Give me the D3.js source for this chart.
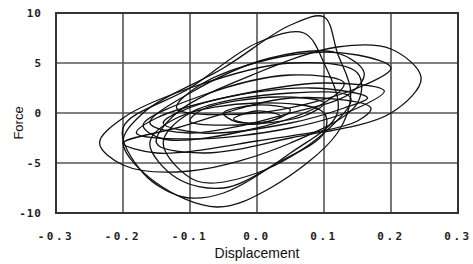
<html><head><meta charset="utf-8"/>
<script src="https://d3js.org/d3.v7.min.js"></script>
<style>
  body { margin: 0; padding: 0; background: #fff; }
  svg { display: block; }
</style>
</head>
<body>
<div id="chart"></div>
<script>
// axis ticks
const xTicks = [-0.3, -0.2, -0.1, 0.0, 0.1, 0.2, 0.3];
const yTicks = [-10, -5, 0, 5, 10];

// hysteresis loops, [displacement, force] points
const loopTall1 = [[0.12, 6], [0.1, 9.6], [0.05, 8.8], [-0.05, 4.5], [-0.17, 0], [-0.2, -3], [-0.15, -7], [-0.06, -9.4], [0.02, -7.5], [0.12, -2], [0.14, 2]];
const loopTall2 = [[0.1, 5], [0.07, 8], [0.0, 7], [-0.1, 2.5], [-0.2, -1.5], [-0.17, -6], [-0.11, -8.4], [-0.05, -8], [0.05, -4], [0.12, 0]];
const loopRight = [[0.245, 3.5], [0.2, 6.4], [0.12, 6.6], [0.0, 4], [-0.12, 0], [-0.15, -3], [-0.08, -4], [0.05, -2.5], [0.2, 0]];
const loopLeft = [[0.15, 4], [0.05, 5], [-0.1, 2.5], [-0.2, -0.5], [-0.235, -3], [-0.2, -5.2], [-0.1, -5.8], [0.05, -3], [0.15, 1]];
const loopUpper = [[0.16, 4], [0.12, 6], [0.02, 5.5], [-0.1, 2], [-0.16, -1], [-0.1, -2], [0.05, 0], [0.14, 2]];
const loopUpper2 = [[0.2, 4.5], [0.15, 5.8], [0.05, 5.8], [-0.08, 3], [-0.12, 0.5], [0.0, 0], [0.15, 2.5]];
const loopMid1 = [[0.19, 2.2], [0.1, 3], [-0.05, 1.5], [-0.15, -0.5], [-0.18, -2], [-0.1, -2.6], [0.05, -1.5], [0.15, 0.5]];
const loopMid2 = [[0.165, 1.5], [0.08, 2.5], [-0.08, 1], [-0.14, -1], [-0.08, -2], [0.05, -1], [0.13, 0.5]];
const loopMid3 = [[0.13, 3], [0.05, 3.8], [-0.08, 1.8], [-0.17, -1.2], [-0.14, -2.6], [0.0, -1.5], [0.1, 1]];
const loopFlat = [[0.17, 0.5], [0.05, 1.5], [-0.12, -1.5], [-0.2, -3], [-0.15, -4], [0.0, -2.8], [0.15, -0.8]];
const loopLower1 = [[0.1, 0], [0.0, 1], [-0.12, -0.5], [-0.16, -3], [-0.12, -6.5], [-0.05, -7.5], [0.03, -5], [0.1, -2]];
const loopLower2 = [[0.14, 1.5], [0.05, 2], [-0.1, 0], [-0.14, -3], [-0.09, -6.8], [0.0, -6], [0.1, -2]];
const loopSmall1 = [[0.1, 1], [0.03, 1.6], [-0.08, 0.4], [-0.1, -0.8], [-0.03, -1.2], [0.07, -0.3]];
const loopSmall2 = [[0.05, 0.3], [0.0, 0.8], [-0.05, 0], [-0.03, -0.9], [0.03, -0.6]];
const loopTiny = [[0.035, -0.3], [0.0, 0.2], [-0.035, -0.6], [0.0, -1.1]];

const loops = [loopTall1, loopTall2, loopRight, loopLeft, loopUpper, loopUpper2, loopMid1, loopMid2,
               loopMid3, loopFlat, loopLower1, loopLower2, loopSmall1, loopSmall2, loopTiny];

const W = 473, H = 264;
const margin = {left: 56, right: 15, top: 13, bottom: 51};

const svg = d3.select("#chart").append("svg")
    .attr("width", W).attr("height", H);

const x = d3.scaleLinear().domain([-0.3, 0.3]).range([margin.left, W - margin.right]);
const y = d3.scaleLinear().domain([-10, 10]).range([H - margin.bottom, margin.top]);

// grid
svg.append("g").selectAll("line").data(xTicks.slice(1, -1)).join("line")
    .attr("x1", d => x(d)).attr("x2", d => x(d))
    .attr("y1", y(10)).attr("y2", y(-10))
    .attr("stroke", "#555").attr("stroke-width", 1.6);
svg.append("g").selectAll("line").data(yTicks.slice(1, -1)).join("line")
    .attr("y1", d => y(d)).attr("y2", d => y(d))
    .attr("x1", x(-0.3)).attr("x2", x(0.3))
    .attr("stroke", "#555").attr("stroke-width", 1.6);

// frame
svg.append("rect")
    .attr("x", x(-0.3)).attr("y", y(10))
    .attr("width", x(0.3) - x(-0.3)).attr("height", y(-10) - y(10))
    .attr("fill", "none").attr("stroke", "#333").attr("stroke-width", 2);

// loops
const line = d3.line()
    .x(d => x(d[0])).y(d => y(d[1]))
    .curve(d3.curveCatmullRomClosed.alpha(0.5));

svg.append("g").selectAll("path").data(loops).join("path")
    .attr("d", line)
    .attr("fill", "none").attr("stroke", "#111").attr("stroke-width", 1.3);

// tick labels
const tickFont = "'DejaVu Sans Mono', monospace";
svg.append("g").selectAll("text").data(xTicks).join("text")
    .attr("x", d => x(d)).attr("y", 240)
    .attr("text-anchor", "middle")
    .attr("font-family", tickFont).attr("font-weight", "bold")
    .attr("font-size", 11).attr("letter-spacing", 2.5)
    .attr("fill", "#222")
    .text(d => d3.format(".1f")(d).replace("−", "-"));

svg.append("g").selectAll("text").data(yTicks).join("text")
    .attr("x", 42).attr("y", d => y(d) + 4)
    .attr("text-anchor", "end")
    .attr("font-family", tickFont).attr("font-weight", "bold")
    .attr("font-size", 11).attr("letter-spacing", 1)
    .attr("fill", "#222")
    .text(d => String(d));

// axis titles
svg.append("text")
    .attr("x", x(0)).attr("y", 258)
    .attr("text-anchor", "middle")
    .attr("font-family", "'Liberation Sans', Arial, sans-serif")
    .attr("font-size", 14).attr("fill", "#111")
    .text("Displacement");

svg.append("text")
    .attr("transform", "translate(23,123) rotate(-90)")
    .attr("text-anchor", "middle")
    .attr("font-family", "'Liberation Sans', Arial, sans-serif")
    .attr("font-size", 13).attr("fill", "#111")
    .text("Force");
</script>
</body></html>
